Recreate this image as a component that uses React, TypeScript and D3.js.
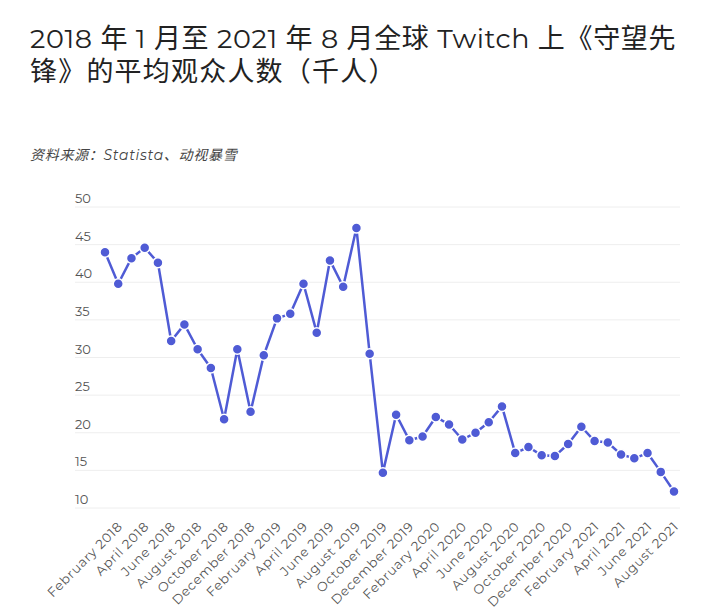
import * as d3 from 'd3';
import React, { useEffect, useRef } from 'react';

const title1 = '2018 年 1 月至 2021 年 8 月全球 Twitch 上《守望先';
const title2 = '锋》的平均观众人数（千人）';
const source = '资料来源：Statista、动视暴雪';

const monthNames = ['January', 'February', 'March', 'April', 'May', 'June', 'July', 'August', 'September', 'October', 'November', 'December'];
const years = [2018, 2019, 2020, 2021];

// average viewers (thousands), Jan 2018 .. Aug 2021
const viewers = [
  44.0, 39.8, 43.2, 44.6, 42.6, 32.2, 34.4, 31.1, 28.6, 21.8, 31.1, 22.8,
  30.3, 35.2, 35.8, 39.8, 33.3, 42.9, 39.4, 47.2, 30.5, 14.7, 22.4, 19.0,
  19.5, 22.1, 21.1, 19.1, 20.0, 21.4, 23.5, 17.3, 18.1, 17.0, 16.9, 18.5,
  20.8, 18.9, 18.7, 17.1, 16.6, 17.3, 14.8, 12.2,
];
const yTicks = [10, 15, 20, 25, 30, 35, 40, 45, 50];

const months: string[] = [];
years.forEach((y) => monthNames.forEach((m) => months.push(m + ' ' + y)));
const categories = months.slice(0, viewers.length);

const FONT = "Montserrat, 'Noto Sans', 'Noto Sans CJK SC', sans-serif";
const COLOR = '#4f5bd5';

const App = () => {
  const ref = useRef<SVGSVGElement>(null);

  useEffect(() => {
    const svg = d3.select(ref.current);
    svg.selectAll('*').remove();

    const x = d3.scalePoint().domain(categories).range([105, 674]);
    const y = d3.scaleLinear().domain([10, 50]).range([508, 207]);

    // titles
    svg.append('text').attr('x', 30).attr('y', 48)
      .style('font-size', '27px').style('letter-spacing', '0.65px').style('fill', '#222').text(title1);
    svg.append('text').attr('x', 30).attr('y', 81)
      .style('font-size', '27px').style('letter-spacing', '1.2px').style('fill', '#222').text(title2);
    svg.append('text').attr('x', 30).attr('y', 160)
      .style('font-size', '14px').style('letter-spacing', '0.7px')
      .style('font-style', 'italic').style('fill', '#444').text(source);

    // grid + y labels
    const grid = svg.append('g');
    grid.selectAll('line').data(yTicks).enter().append('line')
      .attr('x1', 75).attr('x2', 680)
      .attr('y1', (d) => y(d)).attr('y2', (d) => y(d))
      .style('stroke', '#eeeeee').style('stroke-width', 1);
    grid.selectAll('text').data(yTicks).enter().append('text')
      .attr('x', 75).attr('y', (d) => y(d) - 4)
      .style('font-size', '13px').style('fill', '#555')
      .text((d) => d);

    // x labels, every other month starting Feb 2018
    const xLabels = categories.filter((d, i) => i % 2 === 1);
    svg.append('g').selectAll('text').data(xLabels).enter().append('text')
      .attr('transform', (d) => 'translate(' + (x(d)! + 2) + ',' + 524 + ') rotate(-45)')
      .attr('text-anchor', 'end')
      .attr('dy', '0.35em')
      .style('font-size', '13px').style('letter-spacing', '0.7px').style('fill', '#555')
      .text((d) => d);

    // line
    const line = d3.line<number>()
      .x((d, i) => x(categories[i])!)
      .y((d) => y(d));
    svg.append('path').datum(viewers)
      .attr('d', line)
      .style('fill', 'none').style('stroke', COLOR).style('stroke-width', 2.5)
      .style('stroke-linejoin', 'round');

    svg.append('g').selectAll('circle').data(viewers).enter().append('circle')
      .attr('cx', (d, i) => x(categories[i])!)
      .attr('cy', (d) => y(d))
      .attr('r', 5)
      .style('fill', COLOR).style('stroke', '#fff').style('stroke-width', 1.5);
  }, []);

  return (
    <svg ref={ref} width={721} height={614}
      style={{ position: 'absolute', left: 0, top: 0, background: '#fff', fontFamily: FONT }} />
  );
};

export default App;
